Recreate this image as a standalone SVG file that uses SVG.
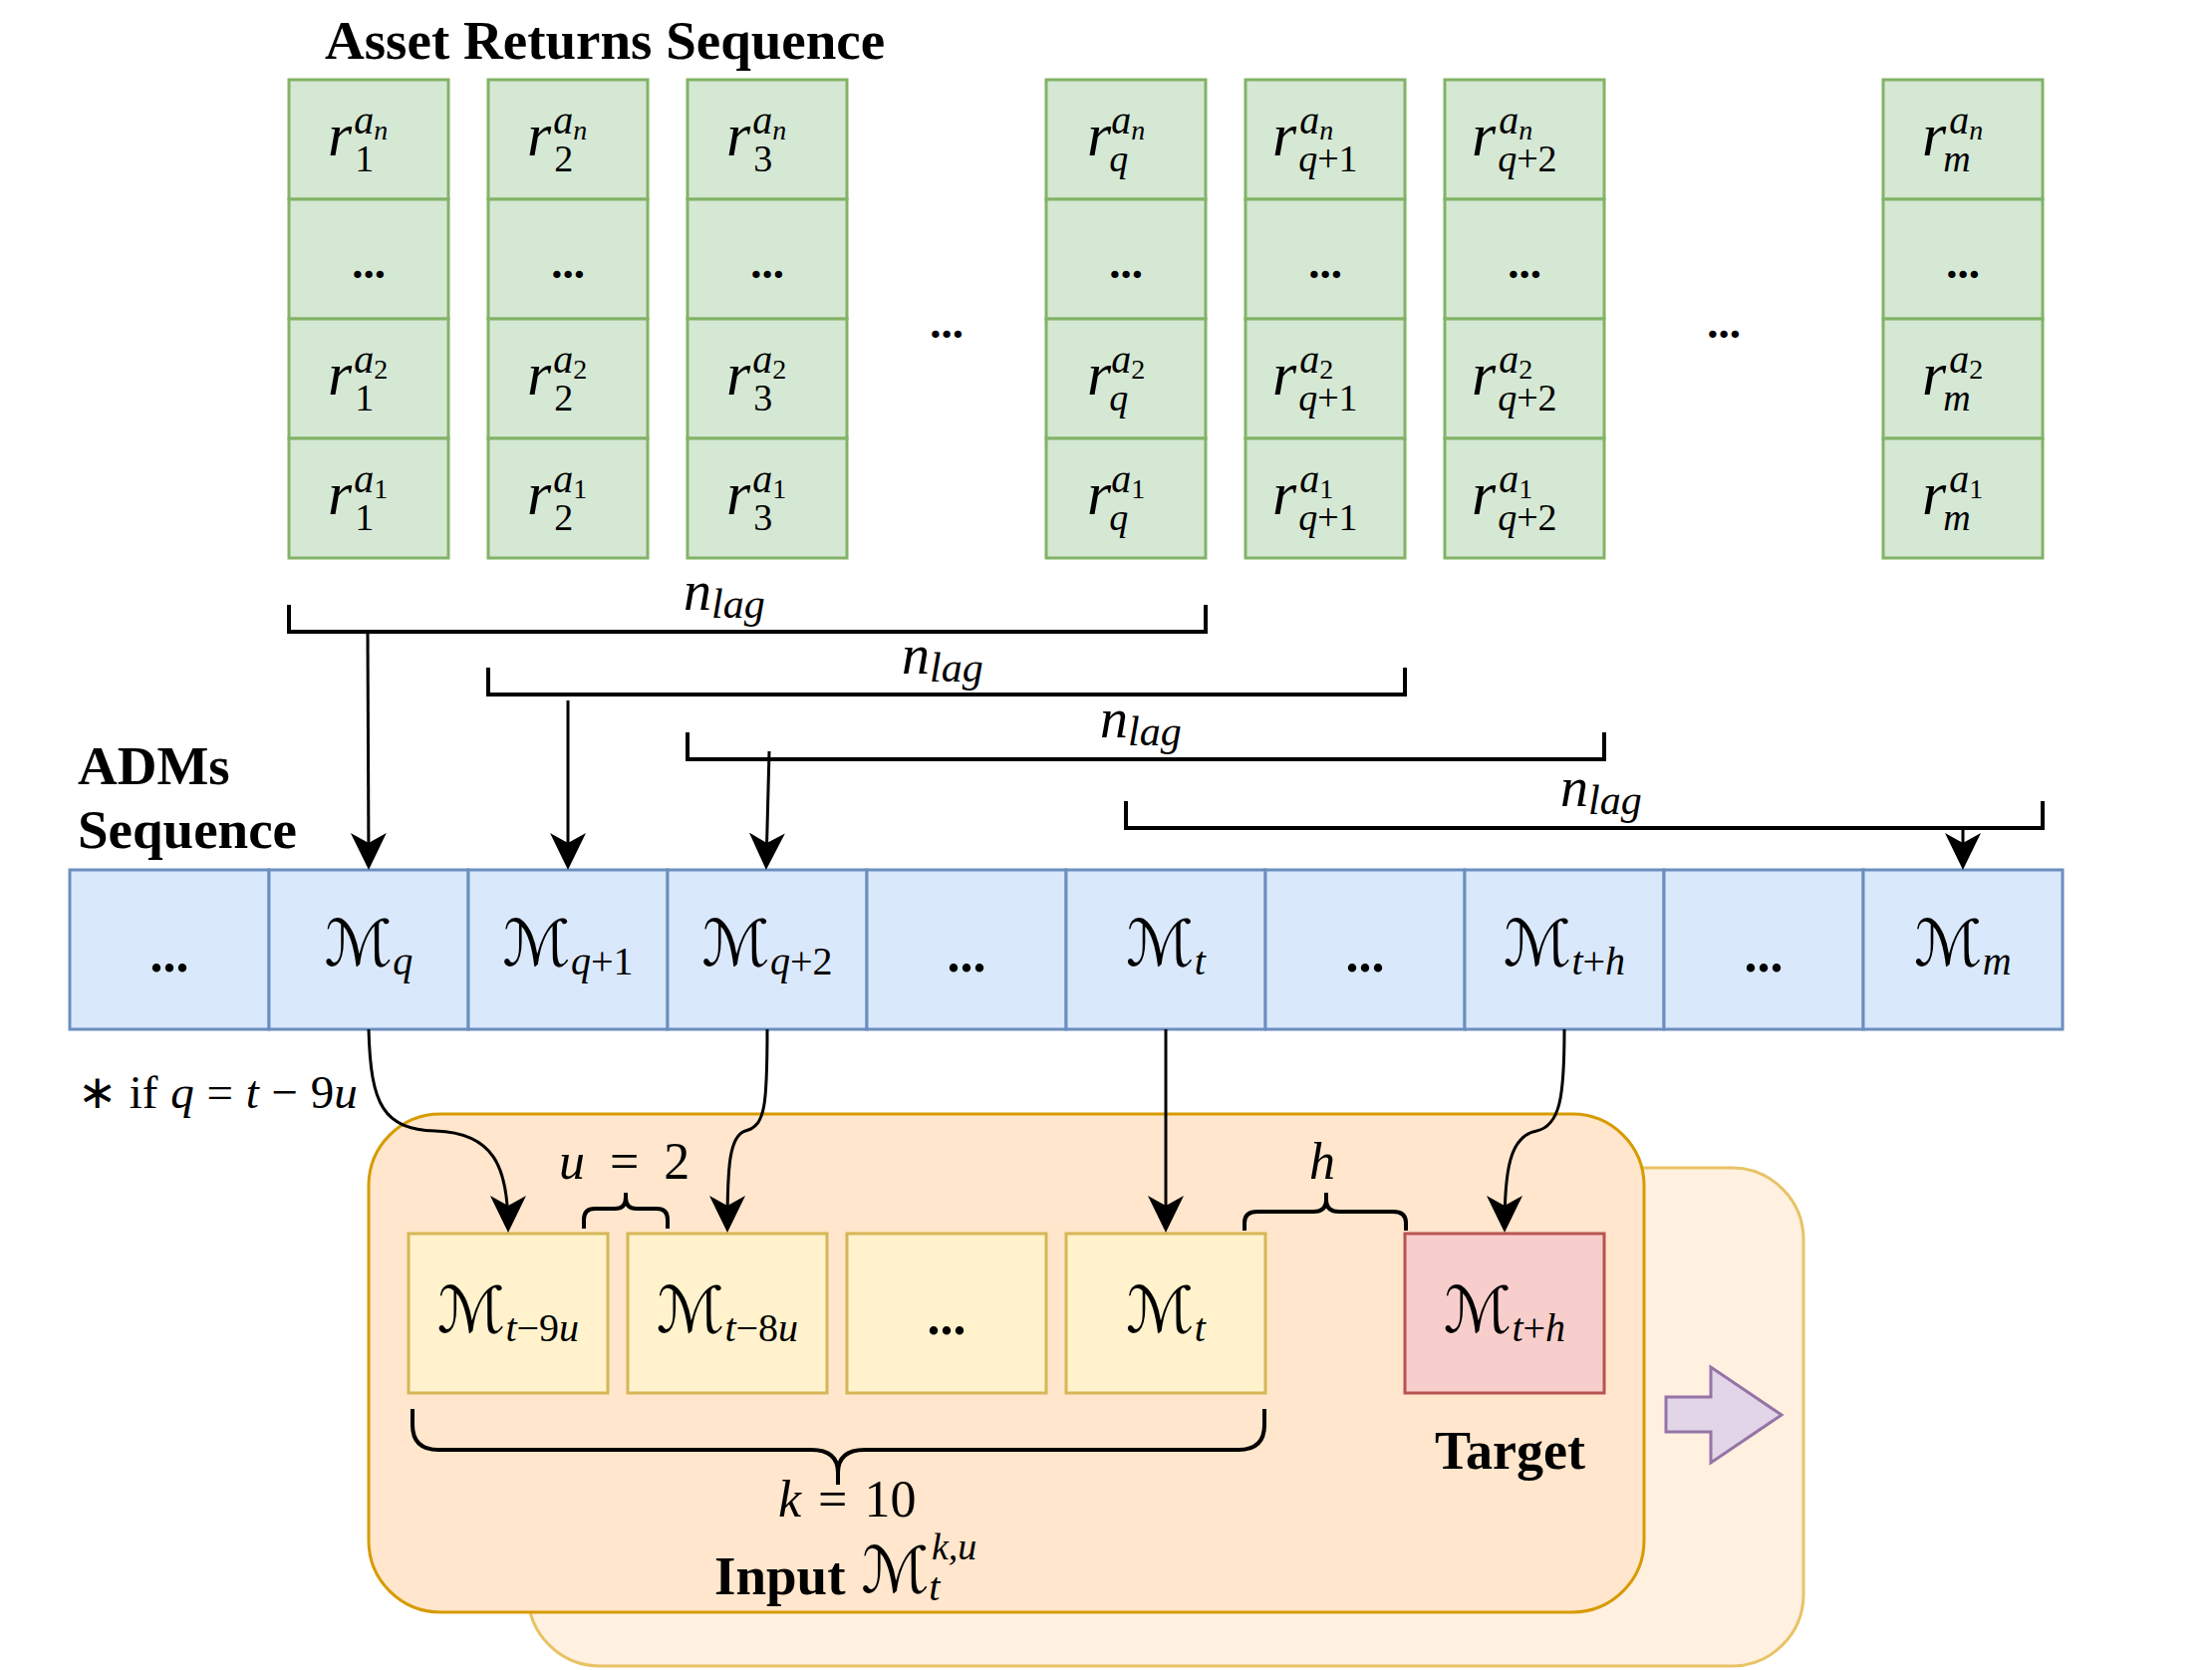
<svg xmlns="http://www.w3.org/2000/svg" width="2220" height="1676" viewBox="0 0 2220 1676">
<style>
text { font-family: "Liberation Serif", "Times New Roman", serif; fill: #000; }
.bold { font-weight: bold; }
.it { font-style: italic; }
.up { font-style: normal; }
.r { font-size: 62px; font-style: italic; }
.sup { font-size: 40px; }
.ix { font-size: 28px; }
.sub { font-size: 38px; }
.dots { font-size: 45px; font-weight: bold; text-anchor: middle; }
.bdots { font-size: 52px; font-weight: bold; text-anchor: middle; }
.scr { font-family: "DejaVu Serif", "DejaVu Sans", serif; font-style: italic; }
.green rect { fill: #d5e8d4; stroke: #82b366; stroke-width: 3; }
.blue rect { fill: #dae8fc; stroke: #6c8ebf; stroke-width: 3; }
.yellow rect { fill: #fff2cc; stroke: #d6b656; stroke-width: 3; }
.red rect { fill: #f8cecc; stroke: #b85450; stroke-width: 3; }
.bracket { fill: none; stroke: #000; stroke-width: 4; }
.brace { fill: none; stroke: #000; stroke-width: 4; stroke-linejoin: round; }
.arrow { fill: none; stroke: #000; stroke-width: 3; marker-end: url(#ah); }
.lag { font-size: 56px; font-style: italic; }
.mlabel { text-anchor: middle; }
</style>
<defs>
<marker id="ah" markerUnits="userSpaceOnUse" markerWidth="40" markerHeight="40" viewBox="0 0 40 40" refX="33" refY="18" orient="auto">
<path d="M0,0 L37,18 L0,36 L10,18 Z" fill="#000"/>
</marker>
</defs>

<text class="bold" x="326" y="59" font-size="55">Asset Returns Sequence</text>

<!-- Asset return columns -->
<g id="col-1" class="green">
<rect x="290" y="80" width="160" height="120"/><rect x="290" y="200" width="160" height="120"/><rect x="290" y="320" width="160" height="120"/><rect x="290" y="440" width="160" height="120"/>
<text class="r" x="329" y="156">r<tspan class="sup" dx="2" dy="-22">a<tspan class="ix" dy="6">n</tspan></tspan><tspan class="sub up" dx="-33" dy="32">1</tspan></text>
<text class="dots" x="370" y="279">...</text>
<text class="r" x="329" y="396">r<tspan class="sup" dx="2" dy="-22">a<tspan class="ix up" dy="6">2</tspan></tspan><tspan class="sub up" dx="-33" dy="32">1</tspan></text>
<text class="r" x="329" y="516">r<tspan class="sup" dx="2" dy="-22">a<tspan class="ix up" dy="6">1</tspan></tspan><tspan class="sub up" dx="-33" dy="32">1</tspan></text>
</g>
<g id="col-2" class="green">
<rect x="490" y="80" width="160" height="120"/><rect x="490" y="200" width="160" height="120"/><rect x="490" y="320" width="160" height="120"/><rect x="490" y="440" width="160" height="120"/>
<text class="r" x="529" y="156">r<tspan class="sup" dx="2" dy="-22">a<tspan class="ix" dy="6">n</tspan></tspan><tspan class="sub up" dx="-33" dy="32">2</tspan></text>
<text class="dots" x="570" y="279">...</text>
<text class="r" x="529" y="396">r<tspan class="sup" dx="2" dy="-22">a<tspan class="ix up" dy="6">2</tspan></tspan><tspan class="sub up" dx="-33" dy="32">2</tspan></text>
<text class="r" x="529" y="516">r<tspan class="sup" dx="2" dy="-22">a<tspan class="ix up" dy="6">1</tspan></tspan><tspan class="sub up" dx="-33" dy="32">2</tspan></text>
</g>
<g id="col-3" class="green">
<rect x="690" y="80" width="160" height="120"/><rect x="690" y="200" width="160" height="120"/><rect x="690" y="320" width="160" height="120"/><rect x="690" y="440" width="160" height="120"/>
<text class="r" x="729" y="156">r<tspan class="sup" dx="2" dy="-22">a<tspan class="ix" dy="6">n</tspan></tspan><tspan class="sub up" dx="-33" dy="32">3</tspan></text>
<text class="dots" x="770" y="279">...</text>
<text class="r" x="729" y="396">r<tspan class="sup" dx="2" dy="-22">a<tspan class="ix up" dy="6">2</tspan></tspan><tspan class="sub up" dx="-33" dy="32">3</tspan></text>
<text class="r" x="729" y="516">r<tspan class="sup" dx="2" dy="-22">a<tspan class="ix up" dy="6">1</tspan></tspan><tspan class="sub up" dx="-33" dy="32">3</tspan></text>
</g>
<text class="dots" x="950" y="339">...</text>
<g id="col-q" class="green">
<rect x="1050" y="80" width="160" height="120"/><rect x="1050" y="200" width="160" height="120"/><rect x="1050" y="320" width="160" height="120"/><rect x="1050" y="440" width="160" height="120"/>
<text class="r" x="1091" y="156">r<tspan class="sup" dx="0" dy="-22">a<tspan class="ix" dy="6">n</tspan></tspan><tspan class="sub" dx="-36" dy="32">q</tspan></text>
<text class="dots" x="1130" y="279">...</text>
<text class="r" x="1091" y="396">r<tspan class="sup" dx="0" dy="-22">a<tspan class="ix up" dy="6">2</tspan></tspan><tspan class="sub" dx="-36" dy="32">q</tspan></text>
<text class="r" x="1091" y="516">r<tspan class="sup" dx="0" dy="-22">a<tspan class="ix up" dy="6">1</tspan></tspan><tspan class="sub" dx="-36" dy="32">q</tspan></text>
</g>
<g id="col-q1" class="green">
<rect x="1250" y="80" width="160" height="120"/><rect x="1250" y="200" width="160" height="120"/><rect x="1250" y="320" width="160" height="120"/><rect x="1250" y="440" width="160" height="120"/>
<text class="r" x="1277" y="156">r<tspan class="sup" dx="3" dy="-22">a<tspan class="ix" dy="6">n</tspan></tspan><tspan class="sub" dx="-35" dy="32">q<tspan class="up">+1</tspan></tspan></text>
<text class="dots" x="1330" y="279">...</text>
<text class="r" x="1277" y="396">r<tspan class="sup" dx="3" dy="-22">a<tspan class="ix up" dy="6">2</tspan></tspan><tspan class="sub" dx="-35" dy="32">q<tspan class="up">+1</tspan></tspan></text>
<text class="r" x="1277" y="516">r<tspan class="sup" dx="3" dy="-22">a<tspan class="ix up" dy="6">1</tspan></tspan><tspan class="sub" dx="-35" dy="32">q<tspan class="up">+1</tspan></tspan></text>
</g>
<g id="col-q2" class="green">
<rect x="1450" y="80" width="160" height="120"/><rect x="1450" y="200" width="160" height="120"/><rect x="1450" y="320" width="160" height="120"/><rect x="1450" y="440" width="160" height="120"/>
<text class="r" x="1477" y="156">r<tspan class="sup" dx="3" dy="-22">a<tspan class="ix" dy="6">n</tspan></tspan><tspan class="sub" dx="-35" dy="32">q<tspan class="up">+2</tspan></tspan></text>
<text class="dots" x="1530" y="279">...</text>
<text class="r" x="1477" y="396">r<tspan class="sup" dx="3" dy="-22">a<tspan class="ix up" dy="6">2</tspan></tspan><tspan class="sub" dx="-35" dy="32">q<tspan class="up">+2</tspan></tspan></text>
<text class="r" x="1477" y="516">r<tspan class="sup" dx="3" dy="-22">a<tspan class="ix up" dy="6">1</tspan></tspan><tspan class="sub" dx="-35" dy="32">q<tspan class="up">+2</tspan></tspan></text>
</g>
<text class="dots" x="1730" y="339">...</text>
<g id="col-m" class="green">
<rect x="1890" y="80" width="160" height="120"/><rect x="1890" y="200" width="160" height="120"/><rect x="1890" y="320" width="160" height="120"/><rect x="1890" y="440" width="160" height="120"/>
<text class="r" x="1929" y="156">r<tspan class="sup" dx="3" dy="-22">a<tspan class="ix" dy="6">n</tspan></tspan><tspan class="sub" dx="-40" dy="32">m</tspan></text>
<text class="dots" x="1970" y="279">...</text>
<text class="r" x="1929" y="396">r<tspan class="sup" dx="3" dy="-22">a<tspan class="ix up" dy="6">2</tspan></tspan><tspan class="sub" dx="-40" dy="32">m</tspan></text>
<text class="r" x="1929" y="516">r<tspan class="sup" dx="3" dy="-22">a<tspan class="ix up" dy="6">1</tspan></tspan><tspan class="sub" dx="-40" dy="32">m</tspan></text>
</g>

<!-- lag brackets -->
<g id="brackets">
<path class="bracket" d="M290,607 L290,634 L1210,634 L1210,607"/>
<path class="bracket" d="M490,670 L490,697 L1410,697 L1410,670"/>
<path class="bracket" d="M690,735 L690,762 L1610,762 L1610,735"/>
<path class="bracket" d="M1130,804 L1130,831 L2050,831 L2050,804"/>
<text class="lag" x="686" y="612">n<tspan font-size="42" dy="8">lag</tspan></text>
<text class="lag" x="905" y="676">n<tspan font-size="42" dy="8">lag</tspan></text>
<text class="lag" x="1104" y="740">n<tspan font-size="42" dy="8">lag</tspan></text>
<text class="lag" x="1566" y="809">n<tspan font-size="42" dy="8">lag</tspan></text>
</g>

<text class="bold" x="78" y="787" font-size="55">ADMs</text>
<text class="bold" x="78" y="851" font-size="55">Sequence</text>

<!-- ADMs sequence cells -->
<g id="adm-0" class="blue"><rect x="70" y="873" width="200" height="160"/><text class="bdots" x="170" y="975">...</text></g>
<g id="adm-q" class="blue"><rect x="270" y="873" width="200" height="160"/><text class="mlabel" x="370" y="969"><tspan class="scr" font-size="64">ℳ</tspan><tspan class="it" font-size="40" dy="9">q</tspan></text></g>
<g id="adm-q1" class="blue"><rect x="470" y="873" width="200" height="160"/><text class="mlabel" x="570" y="969"><tspan class="scr" font-size="64">ℳ</tspan><tspan class="it" font-size="40" dy="9">q</tspan><tspan font-size="40">+1</tspan></text></g>
<g id="adm-q2" class="blue"><rect x="670" y="873" width="200" height="160"/><text class="mlabel" x="770" y="969"><tspan class="scr" font-size="64">ℳ</tspan><tspan class="it" font-size="40" dy="9">q</tspan><tspan font-size="40">+2</tspan></text></g>
<g id="adm-4" class="blue"><rect x="870" y="873" width="200" height="160"/><text class="bdots" x="970" y="975">...</text></g>
<g id="adm-t" class="blue"><rect x="1070" y="873" width="200" height="160"/><text class="mlabel" x="1170" y="969"><tspan class="scr" font-size="64">ℳ</tspan><tspan class="it" font-size="40" dy="9">t</tspan></text></g>
<g id="adm-6" class="blue"><rect x="1270" y="873" width="200" height="160"/><text class="bdots" x="1370" y="975">...</text></g>
<g id="adm-th" class="blue"><rect x="1470" y="873" width="200" height="160"/><text class="mlabel" x="1570" y="969"><tspan class="scr" font-size="64">ℳ</tspan><tspan class="it" font-size="40" dy="9">t</tspan><tspan font-size="40">+</tspan><tspan class="it" font-size="40">h</tspan></text></g>
<g id="adm-8" class="blue"><rect x="1670" y="873" width="200" height="160"/><text class="bdots" x="1770" y="975">...</text></g>
<g id="adm-m" class="blue"><rect x="1870" y="873" width="200" height="160"/><text class="mlabel" x="1970" y="969"><tspan class="scr" font-size="64">ℳ</tspan><tspan class="it" font-size="40" dy="9">m</tspan></text></g>

<text x="78" y="1112" font-size="47" word-spacing="1">∗ if <tspan class="it">q</tspan> = <tspan class="it">t</tspan> − 9<tspan class="it">u</tspan></text>

<!-- sample windows -->
<g id="window-back">
<rect x="530" y="1172" width="1280" height="500" rx="72" ry="72" fill="#fff0e0" stroke="#e8c366" stroke-width="3"/>
</g>
<g id="window-front">
<rect x="370" y="1118" width="1280" height="500" rx="72" ry="72" fill="#ffe6cc" stroke="#d79b00" stroke-width="3"/>
</g>

<g id="in-1" class="yellow"><rect x="410" y="1238" width="200" height="160"/><text class="mlabel" x="510" y="1337"><tspan class="scr" font-size="64">ℳ</tspan><tspan class="it" font-size="40" dy="9">t</tspan><tspan font-size="40">−9</tspan><tspan class="it" font-size="40">u</tspan></text></g>
<g id="in-2" class="yellow"><rect x="630" y="1238" width="200" height="160"/><text class="mlabel" x="730" y="1337"><tspan class="scr" font-size="64">ℳ</tspan><tspan class="it" font-size="40" dy="9">t</tspan><tspan font-size="40">−8</tspan><tspan class="it" font-size="40">u</tspan></text></g>
<g id="in-3" class="yellow"><rect x="850" y="1238" width="200" height="160"/><text class="bdots" x="950" y="1339" font-size="50">...</text></g>
<g id="in-4" class="yellow"><rect x="1070" y="1238" width="200" height="160"/><text class="mlabel" x="1170" y="1337"><tspan class="scr" font-size="64">ℳ</tspan><tspan class="it" font-size="40" dy="9">t</tspan></text></g>
<g id="target" class="red"><rect x="1410" y="1238" width="200" height="160"/><text class="mlabel" x="1510" y="1337"><tspan class="scr" font-size="64">ℳ</tspan><tspan class="it" font-size="40" dy="9">t</tspan><tspan font-size="40">+</tspan><tspan class="it" font-size="40">h</tspan></text></g>

<!-- braces and labels -->
<g id="braces">
<path class="brace" d="M586,1233 L586,1224 Q586,1213 597,1213 L617,1213 Q628,1213 628,1202 L628,1197 M628,1202 Q628,1213 639,1213 L659,1213 Q670,1213 670,1224 L670,1233"/>
<path class="brace" d="M1249,1235 L1249,1227 Q1249,1216 1262,1216 L1318,1216 Q1331,1216 1331,1204 L1331,1197 M1331,1204 Q1331,1216 1344,1216 L1398,1216 Q1411,1216 1411,1227 L1411,1235"/>
<path class="brace" d="M414,1414 L414,1430 Q414,1455 440,1455 L814,1455 Q841,1455 841,1478 L841,1490 M841,1478 Q841,1455 868,1455 L1243,1455 Q1269,1455 1269,1430 L1269,1414"/>
<text x="561" y="1183" font-size="52" word-spacing="12"><tspan class="it">u</tspan> = 2</text>
<text class="it" x="1314" y="1183" font-size="52">h</text>
<text x="781" y="1522" font-size="52" word-spacing="4"><tspan class="it">k</tspan> = 10</text>
</g>

<text class="bold" x="1440" y="1474" font-size="54">Target</text>
<text x="717" y="1600"><tspan class="bold" font-size="55">Input</tspan><tspan class="scr" font-size="64" dx="16" dy="-2">ℳ</tspan><tspan class="it" font-size="38" dx="2" dy="-33">k,u</tspan><tspan class="it" font-size="40" dx="-48" dy="41">t</tspan></text>

<g id="next-arrow">
<polygon points="1672,1402 1717,1402 1717,1372 1788,1420 1717,1468 1717,1437 1672,1437" fill="#e1d5e7" stroke="#9673a6" stroke-width="3" stroke-linejoin="miter"/>
</g>

<!-- connectors -->
<g id="connectors">
<path class="arrow" d="M369,634 L370,869"/>
<path class="arrow" d="M570,703 L570,869"/>
<path class="arrow" d="M772,754 L769,869"/>
<path class="arrow" d="M1970,831 L1970,869"/>
<path class="arrow" d="M370,1033 C372,1110 385,1133 437,1135 C495,1137 510,1170 510,1233"/>
<path class="arrow" d="M770,1033 C770,1110 768,1130 748,1135 C732,1140 730,1170 730,1233"/>
<path class="arrow" d="M1170,1033 L1170,1233"/>
<path class="arrow" d="M1570,1033 C1570,1100 1566,1130 1542,1135 C1515,1140 1510,1175 1510,1233"/>
</g>
</svg>
